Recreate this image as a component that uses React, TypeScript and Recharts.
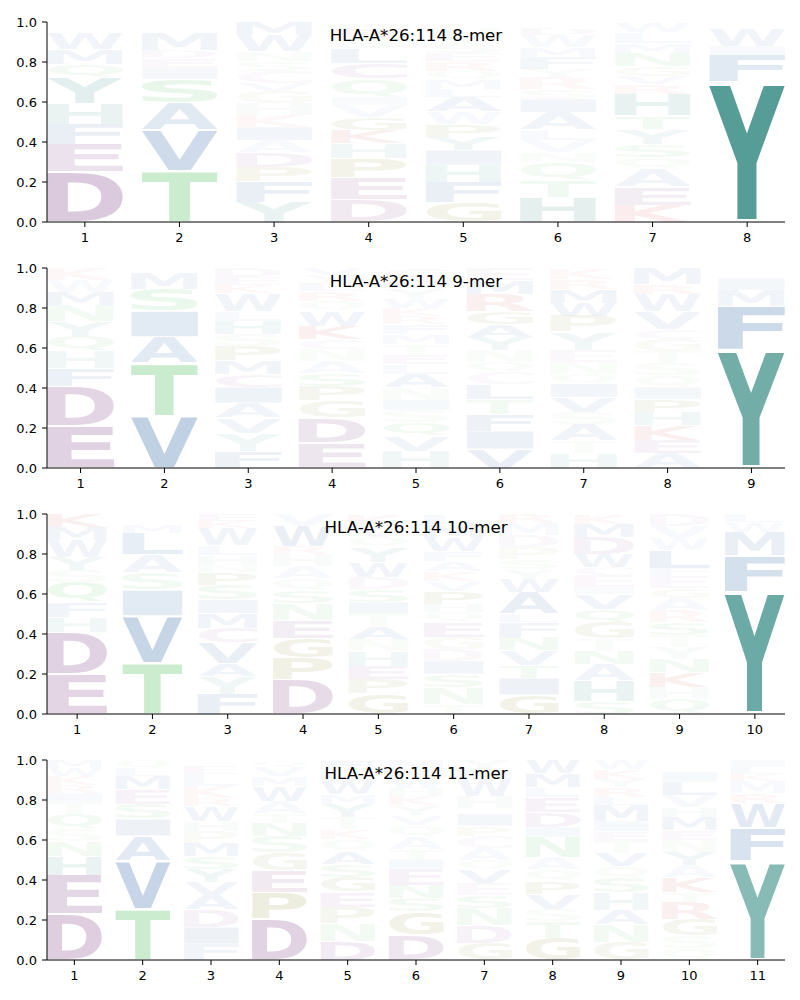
import React from "react";
import { BarChart, Bar, XAxis, YAxis } from "recharts";

type Col = [string, number][];

// letters per position, bottom to top, with their share of the column
const mer8: Col[] = [
  [["D", 0.25], ["E", 0.14], ["F", 0.1], ["H", 0.1], ["Y", 0.13], ["Q", 0.07], ["M", 0.075], ["W", 0.08], ["N", 0.03], ["K", 0.025]],
  [["T", 0.255], ["V", 0.205], ["A", 0.135], ["S", 0.12], ["I", 0.055], ["E", 0.05], ["D", 0.04], ["M", 0.09], ["L", 0.03], ["Q", 0.02]],
  [["Y", 0.1], ["F", 0.1], ["P", 0.075], ["D", 0.075], ["A", 0.06], ["I", 0.065], ["K", 0.06], ["H", 0.06], ["G", 0.06], ["V", 0.04], ["C", 0.06], ["S", 0.05], ["N", 0.05], ["W", 0.08], ["M", 0.065]],
  [["D", 0.11], ["E", 0.11], ["P", 0.1], ["H", 0.075], ["K", 0.065], ["G", 0.065], ["V", 0.06], ["I", 0.04], ["Q", 0.09], ["C", 0.08], ["L", 0.075], ["S", 0.05], ["R", 0.05], ["T", 0.03]],
  [["G", 0.1], ["F", 0.1], ["H", 0.085], ["I", 0.075], ["Y", 0.065], ["P", 0.065], ["W", 0.06], ["A", 0.075], ["L", 0.04], ["M", 0.05], ["Q", 0.04], ["R", 0.05], ["E", 0.04], ["S", 0.05], ["T", 0.035], ["N", 0.04], ["K", 0.03]],
  [["H", 0.125], ["T", 0.085], ["Q", 0.09], ["N", 0.05], ["V", 0.06], ["L", 0.05], ["A", 0.09], ["I", 0.065], ["S", 0.05], ["R", 0.06], ["Y", 0.04], ["F", 0.06], ["M", 0.05], ["W", 0.06], ["D", 0.035], ["K", 0.03]],
  [["K", 0.085], ["E", 0.09], ["A", 0.09], ["Q", 0.06], ["S", 0.065], ["Y", 0.075], ["T", 0.065], ["H", 0.11], ["R", 0.05], ["V", 0.04], ["G", 0.05], ["N", 0.065], ["M", 0.05], ["L", 0.055], ["W", 0.05]],
  [["Y", 0.7], ["F", 0.135], ["I", 0.045], ["W", 0.09], ["M", 0.015], ["L", 0.015]],
];

const mer9: Col[] = [
  [["E", 0.21], ["D", 0.2], ["F", 0.09], ["H", 0.085], ["Q", 0.075], ["Y", 0.075], ["N", 0.08], ["M", 0.065], ["W", 0.06], ["K", 0.06]],
  [["V", 0.26], ["T", 0.265], ["A", 0.13], ["I", 0.13], ["S", 0.11], ["M", 0.08], ["L", 0.025]],
  [["F", 0.085], ["Y", 0.09], ["V", 0.075], ["A", 0.075], ["I", 0.08], ["C", 0.065], ["M", 0.065], ["P", 0.075], ["S", 0.06], ["H", 0.065], ["L", 0.05], ["W", 0.09], ["K", 0.04], ["E", 0.04], ["D", 0.045]],
  [["E", 0.125], ["D", 0.125], ["G", 0.085], ["P", 0.075], ["S", 0.065], ["A", 0.06], ["N", 0.06], ["C", 0.05], ["K", 0.065], ["W", 0.075], ["Q", 0.05], ["R", 0.05], ["L", 0.04], ["Y", 0.04], ["V", 0.035]],
  [["H", 0.085], ["V", 0.075], ["Q", 0.07], ["S", 0.06], ["I", 0.05], ["N", 0.06], ["A", 0.07], ["L", 0.05], ["E", 0.05], ["T", 0.05], ["M", 0.05], ["F", 0.05], ["R", 0.04], ["K", 0.04], ["W", 0.05], ["Y", 0.05], ["D", 0.05], ["C", 0.05]],
  [["V", 0.095], ["I", 0.09], ["F", 0.085], ["T", 0.075], ["L", 0.075], ["C", 0.06], ["Q", 0.05], ["N", 0.06], ["Y", 0.065], ["A", 0.065], ["G", 0.065], ["R", 0.085], ["M", 0.07], ["E", 0.06]],
  [["H", 0.075], ["T", 0.06], ["A", 0.085], ["S", 0.06], ["V", 0.075], ["I", 0.065], ["Q", 0.05], ["N", 0.06], ["E", 0.06], ["Y", 0.09], ["P", 0.08], ["W", 0.065], ["M", 0.07], ["R", 0.05], ["K", 0.055]],
  [["A", 0.075], ["E", 0.065], ["K", 0.075], ["H", 0.065], ["P", 0.065], ["I", 0.06], ["Q", 0.06], ["S", 0.06], ["T", 0.06], ["G", 0.06], ["C", 0.05], ["V", 0.09], ["W", 0.085], ["R", 0.05], ["M", 0.08]],
  [["Y", 0.59], ["F", 0.22], ["M", 0.08], ["I", 0.06], ["L", 0.03], ["W", 0.02]],
];

const mer10: Col[] = [
  [["E", 0.2], ["D", 0.21], ["H", 0.075], ["F", 0.075], ["Q", 0.1], ["S", 0.06], ["Y", 0.065], ["W", 0.085], ["M", 0.065], ["K", 0.065]],
  [["T", 0.255], ["V", 0.235], ["I", 0.13], ["S", 0.085], ["A", 0.09], ["L", 0.11], ["M", 0.04], ["Q", 0.025], ["N", 0.03]],
  [["F", 0.1], ["Y", 0.09], ["A", 0.065], ["V", 0.1], ["C", 0.075], ["M", 0.075], ["I", 0.065], ["S", 0.075], ["P", 0.065], ["N", 0.035], ["H", 0.05], ["L", 0.05], ["W", 0.085], ["K", 0.035], ["E", 0.035]],
  [["D", 0.17], ["P", 0.11], ["G", 0.1], ["E", 0.09], ["N", 0.085], ["S", 0.065], ["Q", 0.06], ["A", 0.06], ["H", 0.06], ["R", 0.04], ["W", 0.1], ["V", 0.06]],
  [["G", 0.1], ["P", 0.075], ["E", 0.065], ["H", 0.075], ["N", 0.06], ["A", 0.065], ["T", 0.06], ["I", 0.06], ["S", 0.065], ["D", 0.06], ["W", 0.075], ["Y", 0.075], ["Q", 0.05], ["V", 0.06], ["K", 0.055]],
  [["T", 0.05], ["N", 0.085], ["S", 0.065], ["I", 0.065], ["D", 0.06], ["G", 0.06], ["E", 0.075], ["Q", 0.05], ["H", 0.04], ["P", 0.065], ["V", 0.05], ["K", 0.05], ["A", 0.05], ["F", 0.05], ["W", 0.065], ["M", 0.07], ["L", 0.05]],
  [["G", 0.095], ["I", 0.085], ["T", 0.065], ["V", 0.075], ["N", 0.065], ["F", 0.075], ["L", 0.04], ["A", 0.11], ["W", 0.065], ["Y", 0.05], ["S", 0.05], ["P", 0.06], ["D", 0.06], ["M", 0.06], ["R", 0.045]],
  [["S", 0.065], ["H", 0.1], ["A", 0.085], ["N", 0.065], ["T", 0.06], ["G", 0.085], ["Q", 0.065], ["V", 0.075], ["I", 0.035], ["E", 0.06], ["C", 0.04], ["W", 0.065], ["D", 0.085], ["M", 0.065], ["K", 0.05]],
  [["Q", 0.075], ["H", 0.06], ["K", 0.075], ["N", 0.065], ["Y", 0.06], ["T", 0.06], ["S", 0.065], ["R", 0.06], ["A", 0.06], ["G", 0.05], ["E", 0.06], ["F", 0.04], ["L", 0.09], ["W", 0.06], ["V", 0.06], ["D", 0.06]],
  [["Y", 0.61], ["F", 0.18], ["M", 0.12], ["W", 0.05], ["L", 0.04]],
];

const mer11: Col[] = [
  [["D", 0.23], ["E", 0.195], ["H", 0.095], ["N", 0.075], ["S", 0.06], ["Q", 0.075], ["T", 0.06], ["I", 0.045], ["R", 0.04], ["K", 0.045], ["W", 0.04], ["M", 0.04]],
  [["T", 0.255], ["V", 0.24], ["A", 0.125], ["I", 0.085], ["S", 0.075], ["E", 0.075], ["M", 0.065], ["L", 0.04], ["Q", 0.04]],
  [["F", 0.08], ["I", 0.085], ["D", 0.085], ["A", 0.075], ["V", 0.065], ["Y", 0.065], ["S", 0.065], ["M", 0.065], ["P", 0.06], ["H", 0.05], ["W", 0.075], ["R", 0.04], ["K", 0.06], ["L", 0.06], ["E", 0.04], ["Q", 0.03]],
  [["D", 0.205], ["P", 0.13], ["E", 0.11], ["G", 0.09], ["S", 0.085], ["N", 0.065], ["T", 0.05], ["A", 0.06], ["W", 0.075], ["M", 0.05], ["V", 0.045], ["Q", 0.035]],
  [["D", 0.095], ["N", 0.085], ["P", 0.085], ["E", 0.075], ["G", 0.075], ["S", 0.065], ["A", 0.065], ["Q", 0.06], ["K", 0.05], ["T", 0.06], ["Y", 0.065], ["M", 0.05], ["W", 0.065], ["L", 0.055], ["F", 0.05]],
  [["D", 0.125], ["G", 0.115], ["S", 0.07], ["N", 0.065], ["E", 0.08], ["I", 0.05], ["T", 0.05], ["A", 0.06], ["Q", 0.06], ["V", 0.05], ["Y", 0.05], ["K", 0.045], ["H", 0.04], ["W", 0.05], ["R", 0.045], ["M", 0.045]],
  [["G", 0.085], ["D", 0.09], ["N", 0.085], ["S", 0.065], ["E", 0.06], ["V", 0.065], ["Q", 0.05], ["A", 0.06], ["C", 0.06], ["P", 0.05], ["I", 0.06], ["T", 0.03], ["H", 0.06], ["W", 0.085], ["M", 0.05], ["Y", 0.045]],
  [["G", 0.11], ["T", 0.085], ["S", 0.06], ["V", 0.075], ["P", 0.065], ["Q", 0.06], ["A", 0.06], ["N", 0.1], ["I", 0.05], ["D", 0.075], ["E", 0.075], ["L", 0.05], ["M", 0.07], ["W", 0.065]],
  [["G", 0.09], ["N", 0.085], ["A", 0.075], ["H", 0.085], ["S", 0.075], ["Q", 0.06], ["V", 0.065], ["T", 0.06], ["E", 0.05], ["I", 0.05], ["M", 0.08], ["L", 0.04], ["R", 0.05], ["Y", 0.04], ["K", 0.05], ["W", 0.045]],
  [["Q", 0.06], ["S", 0.06], ["G", 0.085], ["R", 0.085], ["T", 0.05], ["K", 0.075], ["A", 0.06], ["Y", 0.065], ["N", 0.06], ["E", 0.05], ["M", 0.065], ["H", 0.05], ["V", 0.06], ["L", 0.065], ["I", 0.05], ["F", 0.03], ["W", 0.03]],
  [["Y", 0.495], ["F", 0.165], ["W", 0.125], ["R", 0.05], ["M", 0.06], ["K", 0.035], ["L", 0.035], ["I", 0.035]],
];

const titles = ["HLA-A*26:114 8-mer", "HLA-A*26:114 9-mer", "HLA-A*26:114 10-mer", "HLA-A*26:114 11-mer"];
const panels = [mer8, mer9, mer10, mer11];
const yTicks = [0, 0.2, 0.4, 0.6, 0.8, 1.0];

const PURPLE = "#78347f";
const GREEN = "#41ba53";
const BLUE = "#205a9f";
const TEAL = "#27827a";
const RED = "#c81e1e";
const OLIVE = "#7d7d10";

const COLORS: Record<string, string> = {
  D: PURPLE, E: PURPLE, C: "#8c4a96",
  T: GREEN, S: GREEN, N: GREEN, Q: GREEN,
  A: BLUE, V: BLUE, L: BLUE, I: BLUE, M: BLUE, F: BLUE, W: BLUE,
  Y: TEAL, H: TEAL,
  K: RED, R: RED,
  G: OLIVE, P: OLIVE,
};

const FONT = "DejaVu Sans";
const W = 784;
const H = 246;

// rare letters fade out faster than common ones
const alphaOf = (v: number) => Math.min(1, (1.15 * v * v) / (v + 0.02));

// ink bounds of each glyph, so a letter can be stretched to fill its box
const inkCache: Record<string, { l: number; r: number; a: number; d: number }> = {};
function inkBox(ch: string) {
  if (!inkCache[ch]) {
    const ctx = document.createElement("canvas").getContext("2d")!;
    ctx.font = `bold 100px "${FONT}"`;
    const m = ctx.measureText(ch);
    inkCache[ch] = {
      l: m.actualBoundingBoxLeft,
      r: m.actualBoundingBoxRight,
      a: m.actualBoundingBoxAscent,
      d: m.actualBoundingBoxDescent,
    };
  }
  return inkCache[ch];
}

function Glyph(props: any) {
  const { x, y, width, height, payload, layer } = props;
  const ch: string | undefined = payload?.letters?.[layer];
  const val: number = payload?.[`l${layer}`] ?? 0;
  if (!ch || !(height > 0.3) || !(width > 0)) return null;
  const m = inkBox(ch);
  const top = y + height * 0.025;
  const sx = width / (m.l + m.r);
  const sy = (height * 0.95) / (m.a + m.d);
  return (
    <text
      transform={`translate(${x},${top}) scale(${sx},${sy}) translate(${m.l},${m.a})`}
      fontFamily={FONT}
      fontWeight="bold"
      fontSize={100}
      fill={COLORS[ch] ?? "#888"}
      fillOpacity={alphaOf(val)}
    >
      {ch}
    </text>
  );
}

function Logo({ cols, title }: { cols: Col[]; title: string }) {
  const n = cols.length;
  const depth = Math.max(...cols.map((c) => c.length));
  const rows = cols.map((col, j) => {
    const r: any = { pos: j + 1, letters: col.map((c) => c[0]) };
    col.forEach(([, h], i) => (r[`l${i}`] = h));
    return r;
  });
  const xTicks = cols.map((_, j) => j + 1);
  const tick = { fill: "#000", fontSize: 13, fontFamily: FONT };

  return (
    <div style={{ position: "relative", width: W, height: H }}>
      <BarChart
        width={W}
        height={H}
        data={rows}
        margin={{ top: 14, right: 7, bottom: 2, left: 0 }}
        barCategoryGap="10%"
      >
        <XAxis
          dataKey="pos"
          type="number"
          domain={[0.6, n + 0.4]}
          ticks={xTicks}
          interval={0}
          allowDataOverflow
          tick={tick}
          tickSize={5}
          tickMargin={6}
          height={30}
          stroke="#000"
        />
        <YAxis
          type="number"
          domain={[0, 1]}
          ticks={yTicks}
          allowDataOverflow
          tickFormatter={(v: number) => v.toFixed(1)}
          tick={tick}
          tickSize={5}
          tickMargin={5}
          width={39}
          stroke="#000"
        />
        {Array.from({ length: depth }, (_, i) => (
          <Bar
            key={i}
            dataKey={`l${i}`}
            stackId="s"
            isAnimationActive={false}
            shape={(p: any) => <Glyph {...p} layer={i} />}
          />
        ))}
      </BarChart>
      <div
        style={{
          position: "absolute",
          left: 408,
          top: 20,
          transform: "translateX(-50%)",
          fontFamily: FONT,
          fontSize: 16.67,
          lineHeight: 1,
          whiteSpace: "nowrap",
          color: "#000",
        }}
      >
        {title}
      </div>
    </div>
  );
}

export default function App() {
  return (
    <div style={{ display: "flex", flexDirection: "column", width: W }}>
      {panels.map((cols, k) => (
        <Logo key={k} cols={cols} title={titles[k]} />
      ))}
    </div>
  );
}
